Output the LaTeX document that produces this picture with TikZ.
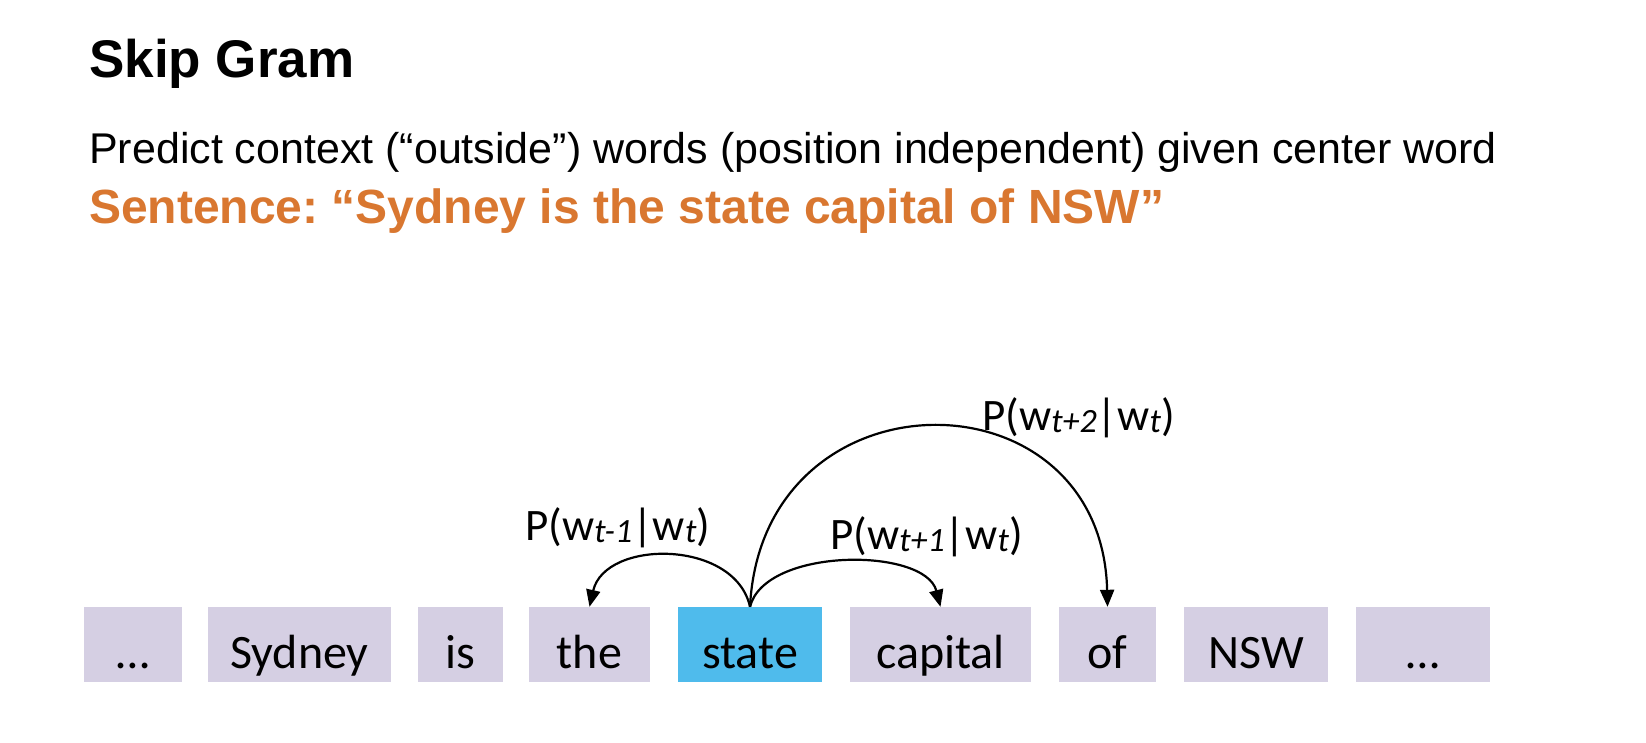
\documentclass[tikz,border=0pt]{standalone}
\usepackage{fontspec}
\setmainfont{Liberation Sans}
\newfontfamily\calfont{Carlito}
\usetikzlibrary{arrows.meta}
\definecolor{boxc}{RGB}{213,207,227}
\definecolor{statec}{RGB}{79,187,236}
\definecolor{orangec}{RGB}{217,119,48}
\newcommand\sbs[1]{\raisebox{-2.5pt}{\fontsize{34}{34}\selectfont\itshape #1}}
\newcommand\plab[1]{P(w\sbs{#1}|w\sbs{t})}
\frenchspacing
\begin{document}
\begin{tikzpicture}[x=1pt,y=-1pt,
  wordbox/.style={fill=boxc, inner sep=0pt, text height=61pt, text depth=14pt, anchor=base,
    font=\calfont\fontsize{48}{56}\selectfont},
  arcline/.style={line width=2.2pt, -{Triangle[length=17pt,width=14pt]}},
  plabel/.style={anchor=base west, inner sep=0pt, font=\calfont\fontsize{45}{54}\selectfont},
  toptext/.style={anchor=base west, inner sep=0pt}]
\useasboundingbox[fill=white] (0,0) rectangle (1646,742);
% titles
\node[toptext, font=\bfseries\fontsize{53}{64}\selectfont] (title) at (89,77) {Skip Gram};
\node[toptext, font=\fontsize{43}{52}\selectfont] (sub) at (89,163) {Predict context (“outside”) words (position independent) given center word};
\node[toptext, font=\bfseries\fontsize{48}{58}\selectfont, text=orangec] (sent) at (89,223) {Sentence: “Sydney is the state capital of NSW”};
% word boxes
\node[wordbox, minimum width=98pt] (d1) at (133,668) {…};
\node[wordbox, minimum width=183pt] (syd) at (299.5,668) {Sydney};
\node[wordbox, minimum width=85pt] (is) at (460.5,668) {is};
\node[wordbox, minimum width=121pt] (the) at (589.5,668) {the};
\node[wordbox, minimum width=144pt, fill=statec] (state) at (750,668) {state};
\node[wordbox, minimum width=181pt] (cap) at (940.5,668) {capital};
\node[wordbox, minimum width=97pt] (of) at (1107.5,668) {of};
\node[wordbox, minimum width=144pt] (nsw) at (1256,668) {NSW};
\node[wordbox, minimum width=134pt] (d2) at (1423,668) {…};
% arcs
\draw[arcline] (state.north) .. controls (735,539) and (605,539) .. (the.north);
\draw[arcline] (state.north) .. controls (765,547) and (925,547) .. (cap.north);
\draw[arcline] (state.north) .. controls (762,367) and (1102,367) .. (of.north);
% labels
\node[plabel] (l1) at (525,540) {\plab{t-1}};
\node[plabel] (l2) at (830,549) {\plab{t+1}};
\node[plabel] (l3) at (982,430) {\plab{t+2}};
\end{tikzpicture}
\end{document}
